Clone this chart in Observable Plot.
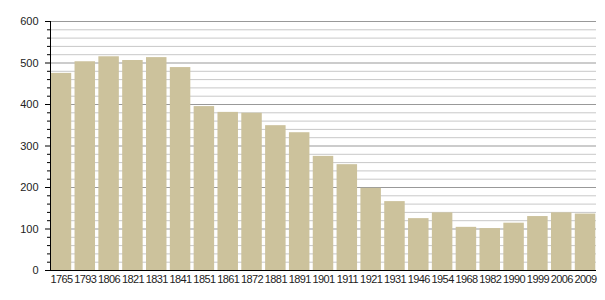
<!DOCTYPE html>
<html>
<head>
<meta charset="utf-8">
<script src="https://cdn.jsdelivr.net/npm/d3@7"></script>
<script src="https://cdn.jsdelivr.net/npm/@observablehq/plot@0.6"></script>
<style>
  body { margin: 0; background: #fff; }
  svg { font-family: "Liberation Sans", Arial, sans-serif; }
  g[aria-label="x-axis tick label"] text { letter-spacing: -0.6px; }
</style>
</head>
<body>
<div id="chart"></div>
<script>
const years = ["1765","1793","1806","1821","1831","1841","1851","1861","1872","1881","1891","1901","1911","1921","1931","1946","1954","1968","1982","1990","1999","2006","2009"];
const population = [475,503,515,506,513,489,395,381,379,349,332,275,255,198,166,125,139,104,101,114,130,139,136];
const majorTicks = [0,100,200,300,400,500,600];
const minorTicks = d3.range(0, 601, 20).filter(v => v % 100 !== 0);

const data = years.map((y, i) => ({year: y, value: population[i]}));

const chart = Plot.plot({
  width: 605,
  height: 300,
  marginLeft: 50,
  marginRight: 9,
  marginTop: 21,
  marginBottom: 30,
  style: {fontSize: "11px", color: "#222", background: "#fff"},
  x: {domain: years, paddingInner: 0.14, paddingOuter: 0.03, round: false, label: null},
  y: {domain: [0, 600], label: null},
  marks: [
    Plot.ruleY(minorTicks, {stroke: "#c8c8c8", strokeWidth: 1}),
    Plot.ruleY(majorTicks, {stroke: "#999", strokeWidth: 1}),
    Plot.barY(data, {x: "year", y: "value", fill: "#ccc29c"}),
    Plot.axisY({ticks: majorTicks, tickSize: 5, tickPadding: 7, stroke: "#000", fill: "#222", label: null}),
    Plot.axisY({ticks: minorTicks, tickSize: 3, text: null, stroke: "#000", label: null}),
    Plot.axisX({tickSize: 0, tickPadding: 5, fill: "#222", label: null, fontSize: 11}),
    Plot.frame({anchor: "left", stroke: "#000"}),
    Plot.ruleY([0], {stroke: "#000", insetLeft: -5})
  ]
});
document.getElementById("chart").appendChild(chart);
</script>
</body>
</html>
